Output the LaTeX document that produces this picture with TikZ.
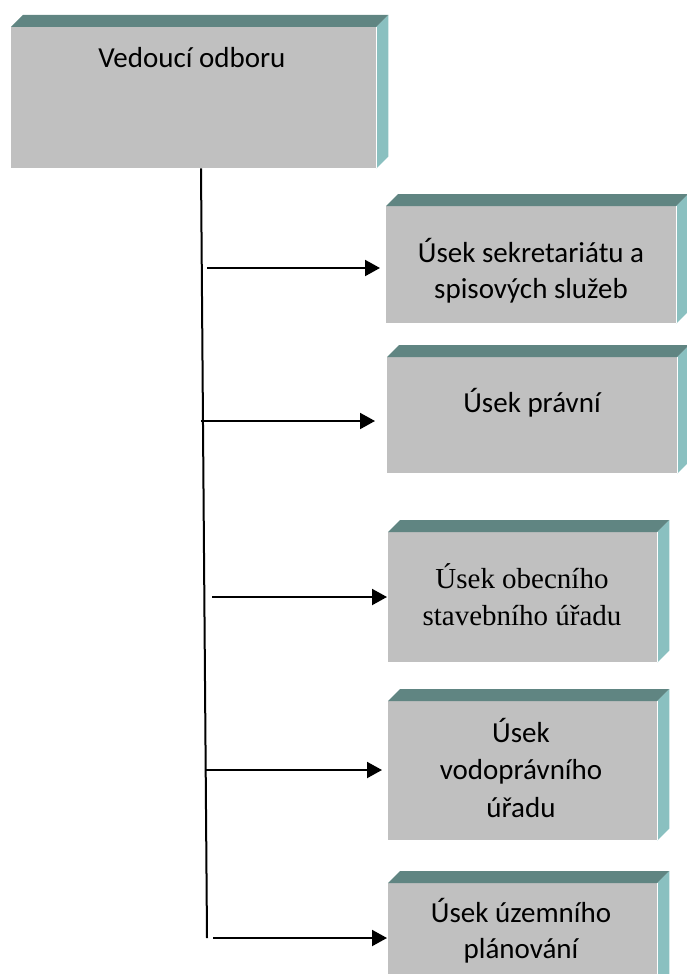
\documentclass[tikz,border=0pt]{standalone}
\usepackage{fontspec}
\setmainfont{Carlito}
\newfontfamily\timesfont{Liberation Serif}
\usetikzlibrary{arrows.meta}
\definecolor{facefront}{HTML}{C0C0C0}
\definecolor{facetop}{HTML}{608582}
\definecolor{faceside}{HTML}{8AC0C0}

% front face of a bevelled slab; the top and side faces are added by \slabfaces
\tikzset{
  slab/.style={fill=facefront, draw=none, inner sep=0pt, anchor=north west},
  slabtext/.style={font=\fontsize{29}{36}\selectfont, align=center, anchor=base, inner sep=0pt},
  trunk/.style={line width=2pt, black},
  branch/.style={line width=2pt, black, -{Triangle[length=15pt,width=16pt]}},
}
\newcommand\slabfaces[2]{%
  \fill[facetop] (#1.north west) -- ++(#2,-#2) -- ([shift={(#2,-#2)}]#1.north east) -- (#1.north east) -- cycle;
  \fill[faceside] (#1.north east) -- ++(#2,-#2) -- ([shift={(#2,-#2)}]#1.south east) -- (#1.south east) -- cycle;
  \draw[white, line width=1.2pt] (#1.north east) -- (#1.south east);
}

\begin{document}
\begin{tikzpicture}[x=1pt, y=-1pt]
  \useasboundingbox (0,0) rectangle (687,974);
  \clip (0,0) rectangle (687,974);

  % slabs
  \node[slab, minimum width=365pt, minimum height=141pt] (b1) at (11,27) {};
  \node[slab, minimum width=290pt, minimum height=117pt] (b2) at (386,206) {};
  \node[slab, minimum width=290pt, minimum height=116pt] (b3) at (387,357) {};
  \node[slab, minimum width=269pt, minimum height=130pt] (b4) at (388,532) {};
  \node[slab, minimum width=269pt, minimum height=139pt] (b5) at (388,701) {};
  \node[slab, minimum width=269pt, minimum height=122pt] (b6) at (388,883) {};
  \foreach \b in {b1,b2,b3,b4,b5,b6} {\slabfaces{\b}{12}}

  % labels (anchored at the baseline of their last line)
  \node[slabtext] (t1) at (192,67) {Vedoucí odboru};
  \node[slabtext] (t2) at (531,298) {Úsek sekretariátu a\\spisových služeb};
  \node[slabtext] (t3) at (532,412) {Úsek právní};
  \node[slabtext, font=\timesfont\fontsize{29}{37}\selectfont] (t4) at (522,625) {Úsek obecního\\stavebního úřadu};
  \node[slabtext, font=\fontsize{29}{37.5}\selectfont] (t5) at (521,817) {Úsek\\vodoprávního\\úřadu};
  \node[slabtext] (t6) at (521,958) {Úsek územního\\plánování};

  % trunk line and branches
  \coordinate (vx) at (201,0);
  \coordinate (vbot) at (207,938);
  \draw[trunk] (b1.south -| vx) -- (vbot);

  \coordinate (a1) at (207,268);
  \coordinate (a2) at (201,421);
  \coordinate (a3) at (212,597);
  \coordinate (a4) at (206,770);
  \coordinate (a5) at (213,938);
  \draw[branch, shorten >=6pt] (a1) -- (b2.west |- a1);
  \draw[branch, shorten >=12pt] (a2) -- (b3.west |- a2);
  \draw[branch, shorten >=1pt] (a3) -- (b4.west |- a3);
  \draw[branch, shorten >=6pt] (a4) -- (b5.west |- a4);
  \draw[branch, shorten >=1pt] (a5) -- (b6.west |- a5);
\end{tikzpicture}
\end{document}
